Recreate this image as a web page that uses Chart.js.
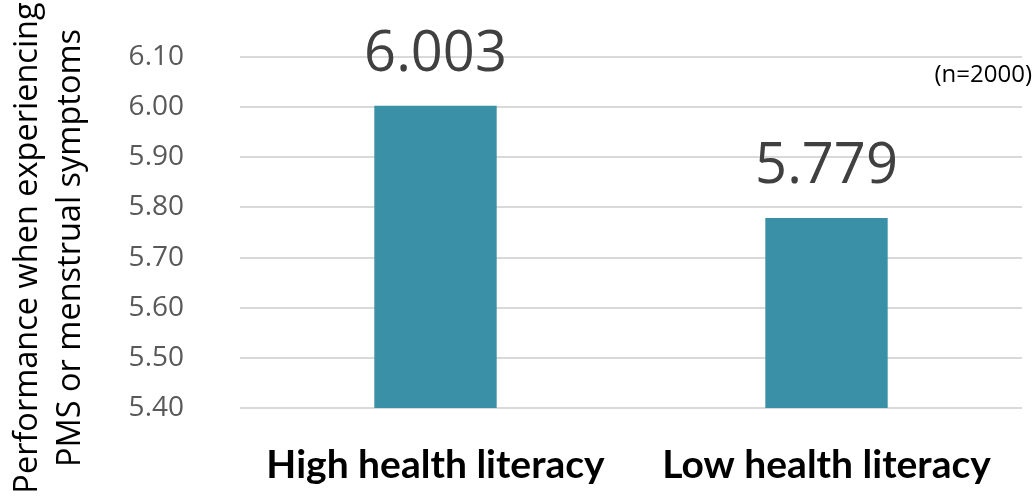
<!DOCTYPE html>
<html>
<head>
<meta charset="utf-8">
<script src="https://cdn.jsdelivr.net/npm/chart.js@4"></script>
<style>
  html, body { margin: 0; padding: 0; background: #fff; }
  #wrap { width: 1035px; height: 496px; }
</style>
</head>
<body>
<div id="wrap"><canvas id="chart" width="1035" height="496"></canvas></div>
<script>
// data
const categories = ["High health literacy", "Low health literacy"];
const scores = [6.003, 5.779];
const yTicks = [5.40, 5.50, 5.60, 5.70, 5.80, 5.90, 6.00, 6.10];
const yTitle = ["Performance when experiencing", "PMS or menstrual symptoms"];
const sampleNote = "(n=2000)";

const barColor = "#3a91a7";

// value labels above each bar, sample size note, rotated y title
const labelPlugin = {
  id: "labels",
  afterDatasetsDraw(chart) {
    const ctx = chart.ctx;
    const meta = chart.getDatasetMeta(0);
    ctx.save();
    ctx.fillStyle = "#404040";
    ctx.font = "56px 'Open Sans'";
    ctx.textAlign = "center";
    ctx.textBaseline = "bottom";
    meta.data.forEach((bar, i) => {
      ctx.fillText(scores[i].toFixed(3), bar.x, bar.y - 23);
    });

    ctx.fillStyle = "#000";
    ctx.font = "24px 'Open Sans'";
    ctx.textAlign = "right";
    ctx.textBaseline = "middle";
    ctx.fillText(sampleNote, 1032, 75);

    // y axis title, two lines
    ctx.font = "32.5px 'Open Sans'";
    ctx.textAlign = "center";
    ctx.translate(0, 248);
    ctx.rotate(-Math.PI / 2);
    ctx.fillText(yTitle[0], 0, 28);
    ctx.fillText(yTitle[1], 0, 71);
    ctx.restore();
  }
};

new Chart(document.getElementById("chart"), {
  type: "bar",
  data: {
    labels: categories,
    datasets: [{
      data: scores,
      backgroundColor: barColor,
      barPercentage: 0.313,
      categoryPercentage: 1
    }]
  },
  options: {
    responsive: false,
    animation: false,
    layout: { padding: { top: 57, right: 13, left: 0, bottom: 0 } },
    plugins: {
      legend: { display: false },
      tooltip: { enabled: false }
    },
    scales: {
      x: {
        grid: { display: false, drawTicks: false },
        border: { display: false },
        ticks: {
          color: "#000",
          font: { family: "Lato", size: 39, weight: "bold" },
          padding: 34
        },
        afterFit(scale) { scale.height = 88; }
      },
      y: {
        min: 5.4,
        max: 6.1,
        afterBuildTicks(scale) {
          scale.ticks = yTicks.map(v => ({ value: v }));
        },
        grid: { color: "#d9d9d9", lineWidth: 2, drawTicks: false },
        border: { display: false },
        ticks: {
          color: "#595959",
          font: { family: "Open Sans", size: 28 },
          padding: 56,
          callback: v => Number(v).toFixed(2)
        },
        afterFit(scale) {
          scale.width = 240;
          scale.paddingTop = 0;
          scale.paddingBottom = 0;
        }
      }
    }
  },
  plugins: [labelPlugin]
});
</script>
</body>
</html>
